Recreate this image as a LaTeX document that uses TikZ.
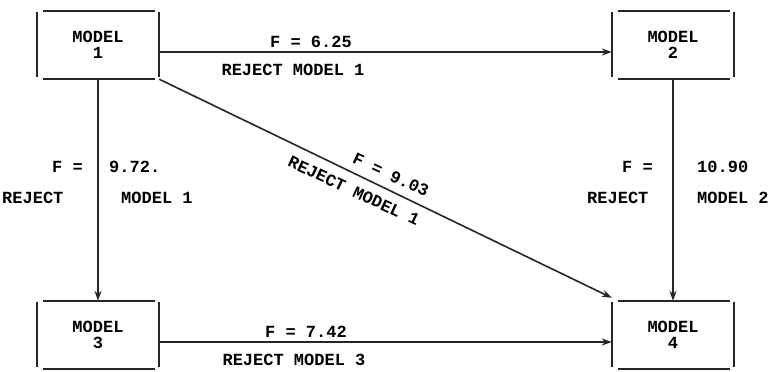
\documentclass[tikz,border=0pt]{standalone}
\usepackage{fontspec}
\setmonofont{Liberation Mono}
\usetikzlibrary{arrows.meta}
\begin{document}
\begin{tikzpicture}[x=1pt,y=-1pt,
  every node/.style={font=\ttfamily\bfseries\fontsize{17}{16}\selectfont, inner sep=0pt},
  modelbox/.style={minimum width=122pt, minimum height=68pt, align=center},
  side/.style={line width=2.2pt, black!85},
  arr/.style={line width=1.6pt, black!85, -{Stealth[length=10pt,width=7pt]}},
  lbl/.style={anchor=base west},
  lblc/.style={anchor=base}]
\useasboundingbox (0,0) rectangle (769,372);

\node[modelbox] (b1) at (98,45) {MODEL\\1};
\node[modelbox] (b2) at (673,45) {MODEL\\2};
\node[modelbox] (b3) at (98,335) {MODEL\\3};
\node[modelbox] (b4) at (673,335) {MODEL\\4};

\foreach \b in {b1,b2,b3,b4} {
  \draw[side] ([xshift=6pt]\b.north west) -- ([xshift=-4pt]\b.north east);
  \draw[side] ([xshift=6pt]\b.south west) -- ([xshift=-4pt]\b.south east);
  \draw[side] ([yshift=-1.5pt]\b.north west) -- ([yshift=2pt]\b.south west);
  \draw[side] ([yshift=-1.5pt]\b.north east) -- ([yshift=2pt]\b.south east);
}

\draw[arr] ([yshift=-7pt]b1.east) -- ([yshift=-7pt]b2.west);
\draw[arr] ([yshift=-7pt]b3.east) -- ([yshift=-7pt]b4.west);
\draw[arr] (b1.south) -- (b3.north);
\draw[arr] (b2.south) -- (b4.north);
\draw[arr] (b1.south east) -- ([yshift=3pt]b4.north west);

% top edge labels
\node[lblc] (t1) at (311,47) {F = 6.25};
\node[lblc] (t2) at (293,75) {REJECT MODEL 1};
% bottom edge labels
\node[lblc] (u1) at (306,337) {F = 7.42};
\node[lblc] (u2) at (294,365) {REJECT MODEL 3};
% left vertical labels
\node[lbl] (l1) at (52,172) {F =};
\node[lbl] (l2) at (109,172) {9.72.};
\node[lbl] (l3) at (2,203) {REJECT};
\node[lbl] (l4) at (121,203) {MODEL 1};
% right vertical labels
\node[lbl] (r1) at (622,172) {F =};
\node[lbl] (r2) at (697,172) {10.90};
\node[lbl] (r3) at (587,203) {REJECT};
\node[lbl] (r4) at (697,203) {MODEL 2};
% diagonal labels
\node[rotate=-25] (d1) at (391,175) {F = 9.03};
\node[rotate=-25] (d2) at (354,191) {REJECT MODEL 1};
\end{tikzpicture}
\end{document}
